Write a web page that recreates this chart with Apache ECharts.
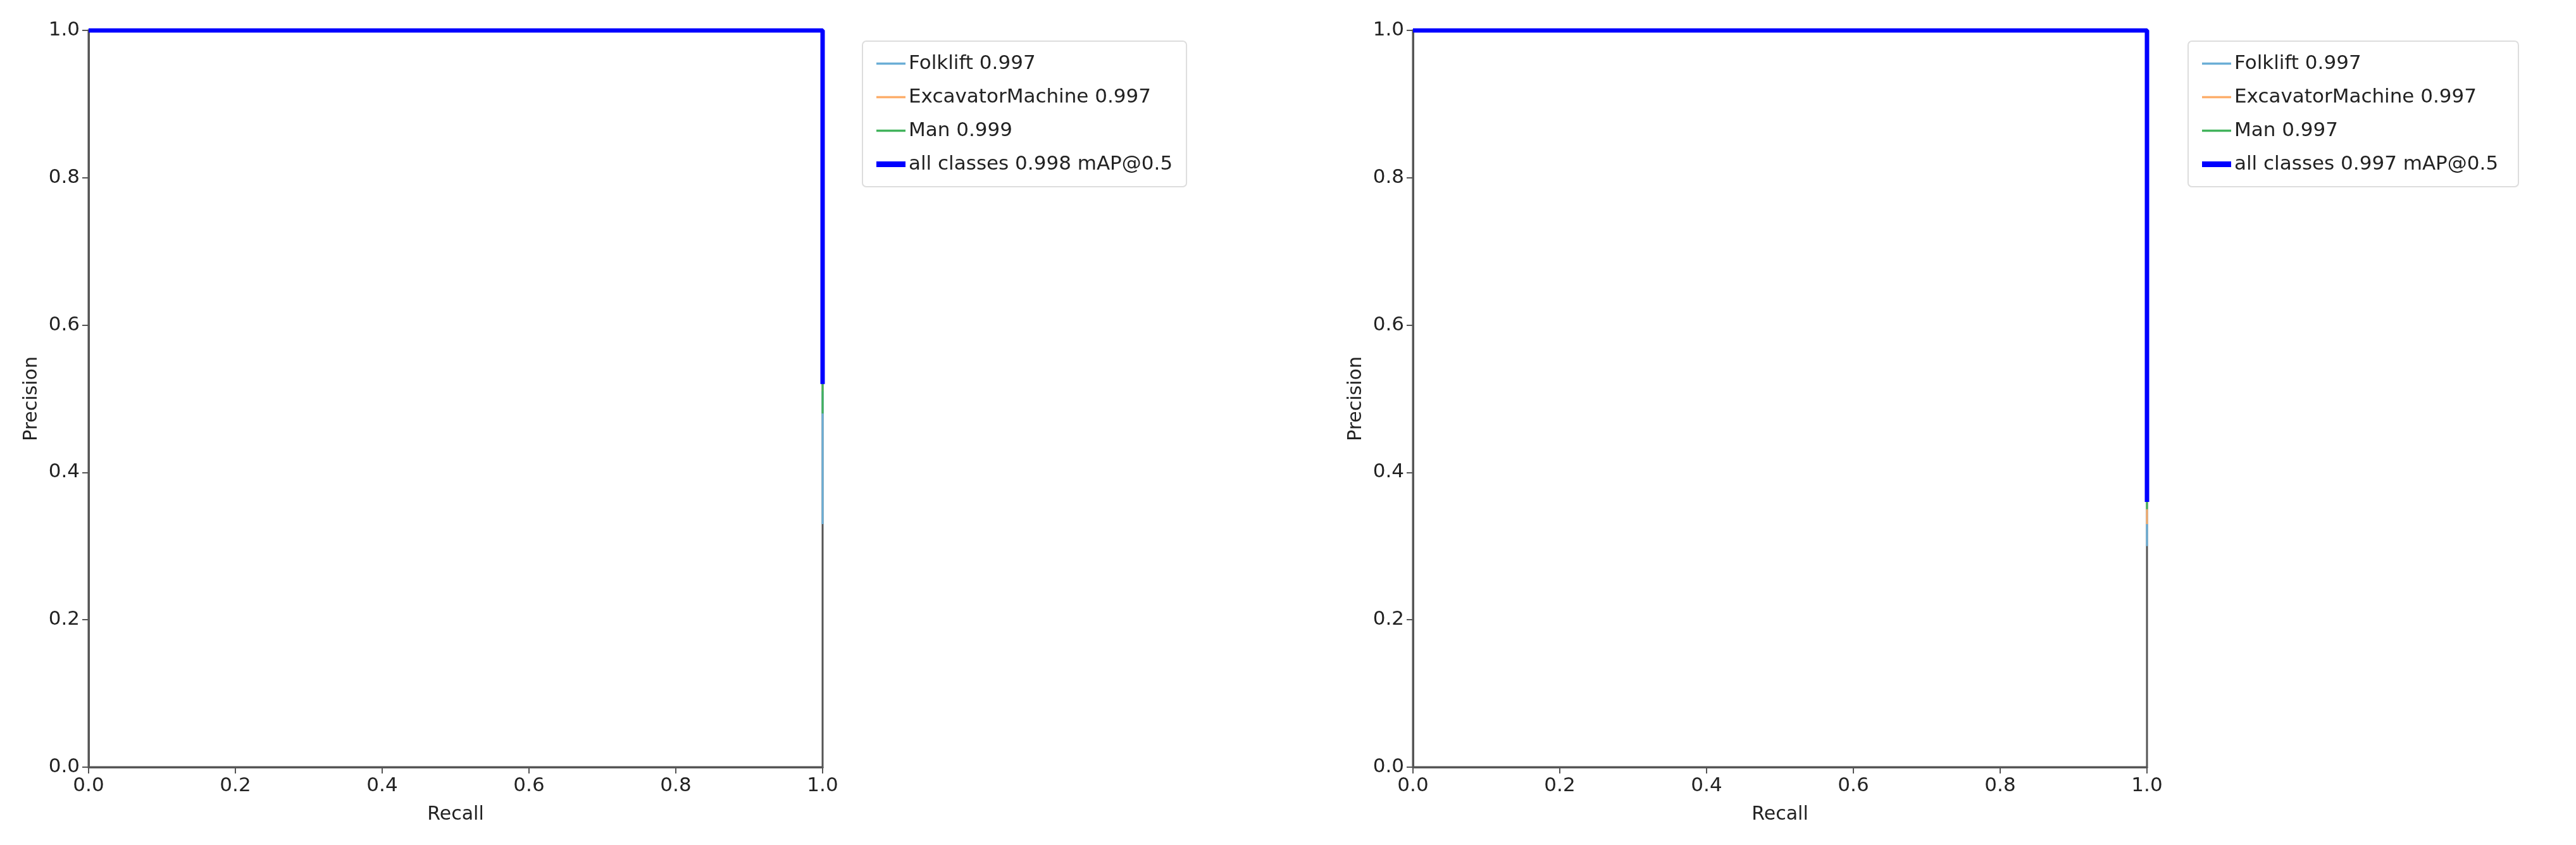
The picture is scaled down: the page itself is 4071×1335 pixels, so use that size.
<!DOCTYPE html>
<html>
<head>
<meta charset="utf-8">
<script src="https://cdn.jsdelivr.net/npm/echarts@6/dist/echarts.min.js"></script>
<style>html,body{margin:0;background:#fff}#c{width:4071px;height:1335px}</style>
</head>
<body>
<div id="c"></div>
<script>
// PR curves, each as [recall, precision] steps
var namesL = ['Folklift 0.997', 'ExcavatorMachine 0.997', 'Man 0.999', 'all classes 0.998 mAP@0.5'];
var namesR = ['Folklift 0.997', 'ExcavatorMachine 0.997', 'Man 0.997', 'all classes 0.997 mAP@0.5 '];
var recall = [0, 1, 1];
var precL = [[1, 1, 0.33], [1, 1, 0.51], [1, 1, 0.48], [1, 1, 0.52]];
var precR = [[1, 1, 0.30], [1, 1, 0.33], [1, 1, 0.35], [1, 1, 0.36]];
var colors = ['#6baed6', '#fdae6b', '#41b35c', '#0000ff'];

var font = 'DejaVu Sans';
function axis(idx, isX, name) {
	return {
		type: 'value', gridIndex: idx, min: 0, max: 1, interval: 0.2,
		name: name, nameLocation: 'middle', nameGap: isX ? 60 : 75,
		nameTextStyle: {fontFamily: font, fontSize: 30, color: '#222'},
		axisLine: {show: true, lineStyle: {color: '#555', width: 3}},
		axisTick: {show: true, length: 10, lineStyle: {color: '#555', width: 2}},
		axisLabel: {fontFamily: font, fontSize: 31, color: '#222', margin: 14,
			formatter: function (v) { return v.toFixed(1); }},
		splitLine: {show: false}
	};
}
function series(idx, names, precs) {
	return names.map(function (n, i) {
		return {
			name: n, type: 'line', xAxisIndex: idx, yAxisIndex: idx,
			data: recall.map(function (r, j) { return [r, precs[i][j]]; }),
			symbol: 'none', color: colors[i],
			lineStyle: {width: i === 3 ? 7 : 3, color: colors[i]},
			z: 2 + i
		};
	});
}
function legend(left, names) {
	return {
		data: names.map(function (n, i) {
			return {name: n, icon: i === 3 ? 'path://M0,0H40V8H0Z' : 'path://M0,0H40V3H0Z'};
		}),
		orient: 'vertical', left: left, top: 65,
		padding: [20, 22], itemGap: 22, itemWidth: 46, itemHeight: 34,
		borderColor: '#ddd', borderWidth: 2, borderRadius: 6,
		textStyle: {fontFamily: font, fontSize: 31, color: '#222'}
	};
}
var chart = echarts.init(document.getElementById('c'));
chart.setOption({
	animation: false,
	grid: [
		{left: 140, width: 1160, top: 48, height: 1164, show: true, borderColor: '#555', borderWidth: 3},
		{left: 2233, width: 1160, top: 48, height: 1164, show: true, borderColor: '#555', borderWidth: 3}
	],
	xAxis: [axis(0, true, 'Recall'), axis(1, true, 'Recall')],
	yAxis: [axis(0, false, 'Precision'), axis(1, false, 'Precision')],
	legend: [legend(1363, namesL), legend(3458, namesR)],
	series: series(0, namesL, precL).concat(series(1, namesR, precR))
});
</script>
</body>
</html>
